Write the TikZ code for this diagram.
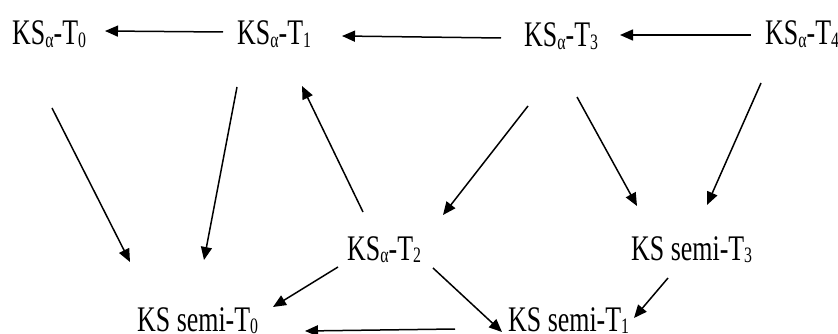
\documentclass[tikz,border=0pt]{standalone}
\usepackage{fontspec}
\setmainfont[FakeStretch=0.72]{Liberation Serif}
\usetikzlibrary{arrows.meta,calc}
\newcommand\mysub[1]{\raisebox{-2.5pt}{\fontsize{22}{22}\selectfont #1}}
\newcommand\ksa[1]{KS\mysub{α}-T\mysub{#1}}
\newcommand\kss[1]{KS semi-T\mysub{#1}}
\begin{document}
\begin{tikzpicture}[x=1pt,y=-1pt,
  lbl/.style={anchor=base west,inner sep=0pt,font=\fontsize{36}{40}\selectfont},
  arr/.style={line width=1.5pt,-{Triangle[length=13pt,width=11pt]}}]
\useasboundingbox (0,0) rectangle (838,334);
\node[lbl] (t0) at (12,45) {\ksa{0}};
\node[lbl] (t1) at (237,45) {\ksa{1}};
\node[lbl] (t3) at (524,47) {\ksa{3}};
\node[lbl] (t4) at (765,45) {\ksa{4}};
\node[lbl] (t2) at (347,260) {\ksa{2}};
\node[lbl] (s3) at (631,260) {\kss{3}};
\node[lbl] (s0) at (137,331) {\kss{0}};
\node[lbl] (s1) at (508,331) {\kss{1}};
% top row
\draw[arr] ($(t1.base west)+(-14,-13)$) -- ($(t0.base west)+(93,-14)$);
\draw[arr] ($(t3.base west)+(-23,-9)$) -- ($(t1.base west)+(105,-9)$);
\draw[arr] ($(t4.base west)+(-14,-10)$) -- ($(t3.base west)+(96,-12)$);
% diagonals
\draw[arr] ($(t0.base west)+(40,63)$) -- ($(s0.base west)+(-7,-69)$);
\draw[arr] ($(t1.base west)+(0,42)$) -- ($(s0.base west)+(67,-71)$);
\draw[arr] ($(t2.base west)+(16,-48)$) -- ($(t1.base west)+(65,41)$);
\draw[arr] ($(t3.base west)+(4,59)$) -- ($(t2.base west)+(96,-45)$);
\draw[arr] ($(t3.base west)+(53,50)$) -- ($(s3.base west)+(6,-54)$);
\draw[arr] ($(t4.base west)+(-4,38)$) -- ($(s3.base west)+(76,-55)$);
\draw[arr] ($(t2.base west)+(-9,7)$) -- ($(s0.base west)+(136,-24)$);
\draw[arr] ($(t2.base west)+(86,8)$) -- ($(s1.base west)+(-6,1)$);
\draw[arr] ($(s3.base west)+(37,18)$) -- ($(s1.base west)+(126,-13)$);
\draw[arr] ($(s1.base west)+(-53,-2)$) -- ($(s0.base west)+(168,0)$);
\end{tikzpicture}
\end{document}
